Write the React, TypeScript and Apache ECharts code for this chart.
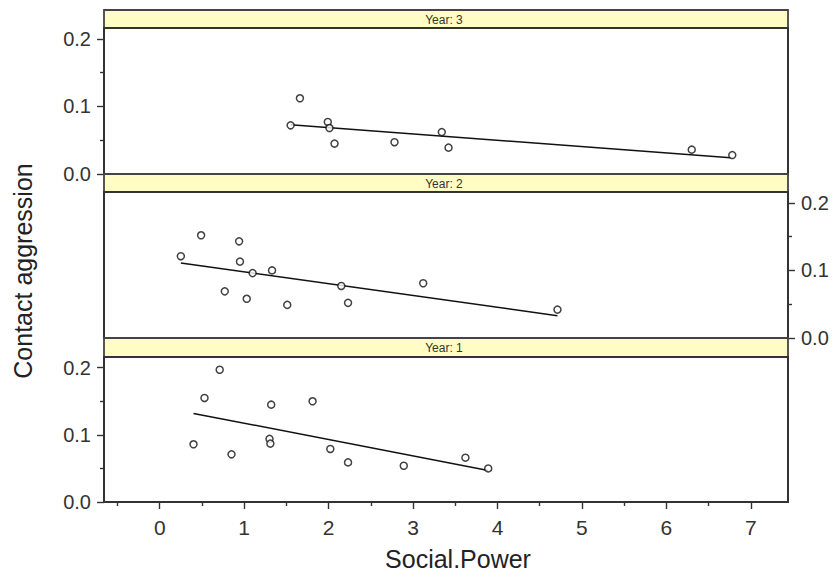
import React, { useEffect, useRef } from "react";
import * as echarts from "echarts";

// ---- Data ----
const panelTitles = ["Year: 3", "Year: 2", "Year: 1"];

const year3X = [1.55, 1.66, 1.99, 2.01, 2.07, 2.78, 3.34, 3.42, 6.30, 6.78];
const year3Y = [0.072, 0.112, 0.077, 0.068, 0.045, 0.047, 0.062, 0.039, 0.036, 0.028];
const year3FitX = [1.55, 6.76];
const year3FitY = [0.073, 0.024];

const year2X = [0.25, 0.49, 0.94, 0.95, 1.10, 1.33, 0.77, 1.03, 1.51, 2.15, 2.23, 3.12, 4.71];
const year2Y = [0.121, 0.152, 0.143, 0.113, 0.096, 0.100, 0.069, 0.058, 0.049, 0.077, 0.052, 0.081, 0.042];
const year2FitX = [0.25, 4.71];
const year2FitY = [0.111, 0.033];

const year1X = [0.40, 0.53, 0.71, 0.85, 1.30, 1.31, 1.32, 1.81, 2.02, 2.23, 2.89, 3.62, 3.89];
const year1Y = [0.086, 0.155, 0.197, 0.071, 0.094, 0.087, 0.145, 0.150, 0.079, 0.059, 0.054, 0.066, 0.050];
const year1FitX = [0.40, 3.89];
const year1FitY = [0.132, 0.047];

const yMajorTicks = [0, 0.1, 0.2];
const yMinorTicks = [0.05, 0.15];
const xMajorTicks = [0, 1, 2, 3, 4, 5, 6, 7];
const xMinorTicks = [-0.5, 0.5, 1.5, 2.5, 3.5, 4.5, 5.5, 6.5];

const xTitle = "Social.Power";
const yTitle = "Contact aggression";

const FONT = '"Liberation Sans", Arial, sans-serif';

export default function App() {
  const ref = useRef<HTMLDivElement>(null);

  useEffect(() => {
    if (!ref.current) return;
    const chart = echarts.init(ref.current, null, { renderer: "svg" });

    const L = 104;
    const W = 684;
    const plots = [
      { top: 28, height: 146, stripTop: 10, stripH: 18 },
      { top: 192, height: 146, stripTop: 174, stripH: 18 },
      { top: 357, height: 145, stripTop: 338, stripH: 19 },
    ];
    const yPos = ["left", "right", "left"];
    const xs = [year3X, year2X, year1X];
    const ys = [year3Y, year2Y, year1Y];
    const fx = [year3FitX, year2FitX, year1FitX];
    const fy = [year3FitY, year2FitY, year1FitY];

    const XMIN = -0.66;
    const XMAX = 7.44;
    const YMIN = 0;
    const YMAX = 0.216;

    const grid: any[] = [];
    const xAxis: any[] = [];
    const yAxis: any[] = [];
    const series: any[] = [];

    plots.forEach((p) => {
      grid.push({ left: L, top: p.top, width: W, height: p.height, show: false });
    });
    plots.forEach((p) => {
      grid.push({ left: L, top: p.top, width: W, height: p.height, show: false });
    });

    const tickStyle = { color: "#333", width: 1.4 };

    for (let i = 0; i < 6; i++) {
      const isBottomMain = i === 2;
      const isBottomMinor = i === 5;
      xAxis.push({
        type: "value",
        gridIndex: i,
        min: XMIN,
        max: XMAX,
        position: "bottom",
        show: isBottomMain || isBottomMinor,
        axisLine: { show: false, onZero: false },
        splitLine: { show: false },
        axisTick: isBottomMain
          ? { show: true, inside: false, length: 7, customValues: xMajorTicks, lineStyle: tickStyle }
          : { show: isBottomMinor, inside: false, length: 4, customValues: xMinorTicks, lineStyle: tickStyle },
        axisLabel: isBottomMain
          ? {
              show: true,
              customValues: xMajorTicks,
              margin: 15,
              color: "#333",
              fontSize: 21,
              fontFamily: FONT,
              formatter: (v: number) => String(Math.round(v)),
            }
          : { show: false },
      });
    }

    for (let i = 0; i < 6; i++) {
      const panel = i % 3;
      const major = i < 3;
      yAxis.push({
        type: "value",
        gridIndex: i,
        min: YMIN,
        max: YMAX,
        position: yPos[panel],
        axisLine: { show: false, onZero: false },
        splitLine: { show: false },
        axisTick: {
          show: true,
          inside: false,
          length: major ? 7 : 4,
          customValues: major ? yMajorTicks : yMinorTicks,
          lineStyle: tickStyle,
        },
        axisLabel: major
          ? {
              show: true,
              customValues: yMajorTicks,
              margin: 13,
              color: "#333",
              fontSize: 20,
              fontFamily: FONT,
              formatter: (v: number) => v.toFixed(1),
            }
          : { show: false },
      });
    }

    for (let i = 0; i < 3; i++) {
      series.push({
        type: "scatter",
        xAxisIndex: i,
        yAxisIndex: i,
        symbol: "circle",
        symbolSize: 7,
        itemStyle: { color: "#fff", borderColor: "#111", borderWidth: 1.5 },
        data: xs[i].map((x, k) => [x, ys[i][k]]),
        z: 3,
      });
      series.push({
        type: "line",
        xAxisIndex: i,
        yAxisIndex: i,
        symbol: "none",
        lineStyle: { color: "#111", width: 1.5 },
        data: fx[i].map((x, k) => [x, fy[i][k]]),
        z: 2,
      });
    }

    const graphic: any[] = [];
    plots.forEach((p, i) => {
      graphic.push({
        type: "rect",
        shape: { x: L, y: p.stripTop, width: W, height: p.stripH },
        style: { fill: "#FFFCC4", stroke: "#444", lineWidth: 1.8 },
        z: 1,
      });
      graphic.push({
        type: "rect",
        shape: { x: L, y: p.top, width: W, height: p.height },
        style: { fill: "none", stroke: "#333", lineWidth: 2 },
        z: 1,
      });
      graphic.push({
        type: "text",
        x: 444,
        y: p.stripTop + p.stripH / 2 + 0.5,
        style: {
          text: panelTitles[i],
          fill: "#333",
          fontSize: 12,
          fontFamily: FONT,
          align: "center",
          verticalAlign: "middle",
        },
        z: 2,
      });
    });
    graphic.push({
      type: "text",
      x: 23,
      y: 271,
      rotation: Math.PI / 2,
      style: {
        text: yTitle,
        fill: "#222",
        fontSize: 25,
        fontFamily: FONT,
        align: "center",
        verticalAlign: "middle",
      },
    });
    graphic.push({
      type: "text",
      x: 458,
      y: 559,
      style: {
        text: xTitle,
        fill: "#222",
        fontSize: 25,
        fontFamily: FONT,
        align: "center",
        verticalAlign: "middle",
      },
    });

    chart.setOption({
      animation: false,
      backgroundColor: "#fff",
      grid,
      xAxis,
      yAxis,
      series,
      graphic,
    });

    return () => chart.dispose();
  }, []);

  return (
    <div
      ref={ref}
      style={{ position: "fixed", left: 0, top: 0, width: 839, height: 577 }}
    />
  );
}
